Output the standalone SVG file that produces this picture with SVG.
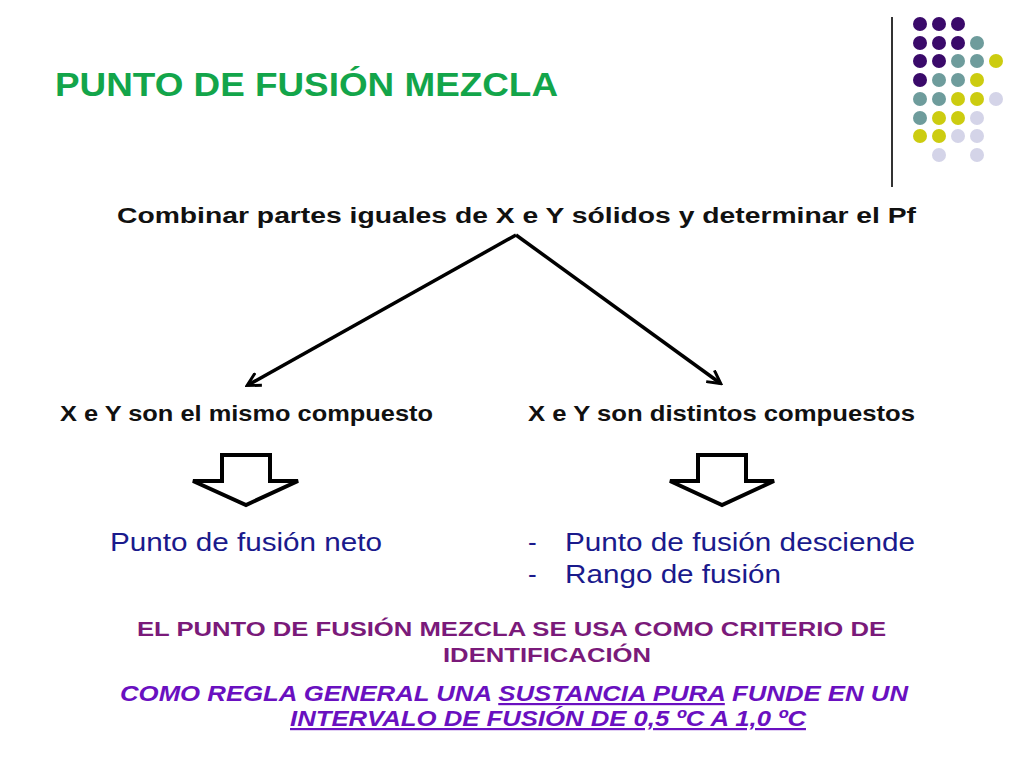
<svg xmlns="http://www.w3.org/2000/svg" width="1024" height="768" viewBox="0 0 1024 768">
<defs>
<marker id="ah" markerWidth="16" markerHeight="16" refX="13" refY="8" orient="auto" markerUnits="userSpaceOnUse" viewBox="0 0 16 16"><path d="M1,1 L14,8 L1,15" fill="none" stroke="#000" stroke-width="3"/></marker>
<style>
text{font-family:"Liberation Sans",Arial,sans-serif}
.b{font-weight:bold;font-size:22px;fill:#111}
.n{font-size:26px;fill:#1a1a8c}
.P{fill:#3a0a6a}.T{fill:#6e9c9c}.Y{fill:#cccc10}.L{fill:#d4d4e8}
.h{fill:#fff;stroke:#000;stroke-width:4}
</style>
</defs>
<rect width="1024" height="768" fill="#fff"/>
<line x1="892" y1="17" x2="892" y2="187" stroke="#333" stroke-width="2"/>
<g>
<circle class="P" cx="920" cy="24" r="7"/><circle class="P" cx="939" cy="24" r="7"/><circle class="P" cx="958" cy="24" r="7"/>
<circle class="P" cx="920" cy="43" r="7"/><circle class="P" cx="939" cy="43" r="7"/><circle class="P" cx="958" cy="43" r="7"/><circle class="T" cx="977" cy="43" r="7"/>
<circle class="P" cx="920" cy="61" r="7"/><circle class="P" cx="939" cy="61" r="7"/><circle class="T" cx="958" cy="61" r="7"/><circle class="T" cx="977" cy="61" r="7"/><circle class="Y" cx="996" cy="61" r="7"/>
<circle class="P" cx="920" cy="80" r="7"/><circle class="T" cx="939" cy="80" r="7"/><circle class="T" cx="958" cy="80" r="7"/><circle class="Y" cx="977" cy="80" r="7"/>
<circle class="T" cx="920" cy="99" r="7"/><circle class="T" cx="939" cy="99" r="7"/><circle class="Y" cx="958" cy="99" r="7"/><circle class="Y" cx="977" cy="99" r="7"/><circle class="L" cx="996" cy="99" r="7"/>
<circle class="T" cx="920" cy="118" r="7"/><circle class="Y" cx="939" cy="118" r="7"/><circle class="Y" cx="958" cy="118" r="7"/><circle class="L" cx="977" cy="118" r="7"/>
<circle class="Y" cx="920" cy="136" r="7"/><circle class="Y" cx="939" cy="136" r="7"/><circle class="L" cx="958" cy="136" r="7"/><circle class="L" cx="977" cy="136" r="7"/>
<circle class="L" cx="939" cy="155" r="7"/><circle class="L" cx="977" cy="155" r="7"/>
</g>
<text x="55" y="96" font-size="34" font-weight="bold" fill="#13a54a" textLength="503" lengthAdjust="spacingAndGlyphs">PUNTO DE FUSIÓN MEZCLA</text>
<g id="top"><text class="b" x="117" y="223" textLength="799" lengthAdjust="spacingAndGlyphs">Combinar partes iguales de X e Y sólidos y determinar el Pf</text></g>
<g id="connectors" stroke="#000" stroke-width="3.5" fill="none">
<line x1="516" y1="235" x2="248" y2="385" marker-end="url(#ah)"/>
<line x1="516" y1="235" x2="720" y2="383" marker-end="url(#ah)"/>
<path class="h" d="M222,455 H270 V481 H298 L246,505 L193,481 H222 Z"/>
<path class="h" d="M698,455 H746 V481 H774 L722,505 L670,481 H698 Z"/>
</g>
<g id="left"><text class="b" x="60" y="421" textLength="373" lengthAdjust="spacingAndGlyphs">X e Y son el mismo compuesto</text>
<text class="n" x="110" y="551" textLength="272" lengthAdjust="spacingAndGlyphs">Punto de fusión neto</text></g>
<g id="right"><text class="b" x="528" y="421" textLength="387" lengthAdjust="spacingAndGlyphs">X e Y son distintos compuestos</text>
<text class="n" x="528" y="551">-</text><text class="n" x="565" y="551" textLength="350" lengthAdjust="spacingAndGlyphs">Punto de fusión desciende</text>
<text class="n" x="528" y="583">-</text><text class="n" x="565" y="583" textLength="216" lengthAdjust="spacingAndGlyphs">Rango de fusión</text></g>
<text x="137" y="636" font-size="21" font-weight="bold" fill="#7a1a7a" textLength="749" lengthAdjust="spacingAndGlyphs">EL PUNTO DE FUSIÓN MEZCLA SE USA COMO CRITERIO DE</text>
<text x="443" y="662" font-size="21" font-weight="bold" fill="#7a1a7a" textLength="208" lengthAdjust="spacingAndGlyphs">IDENTIFICACIÓN</text>
<text x="120" y="701" font-size="22" font-weight="bold" font-style="italic" fill="#6a10c0" textLength="788" lengthAdjust="spacingAndGlyphs">COMO REGLA GENERAL UNA <tspan text-decoration="underline">SUSTANCIA PURA</tspan> FUNDE EN UN</text>
<text x="290" y="726" font-size="22" font-weight="bold" font-style="italic" fill="#6a10c0" text-decoration="underline" textLength="516" lengthAdjust="spacingAndGlyphs">INTERVALO DE FUSIÓN DE 0,5 ºC A 1,0 ºC</text>
</svg>
